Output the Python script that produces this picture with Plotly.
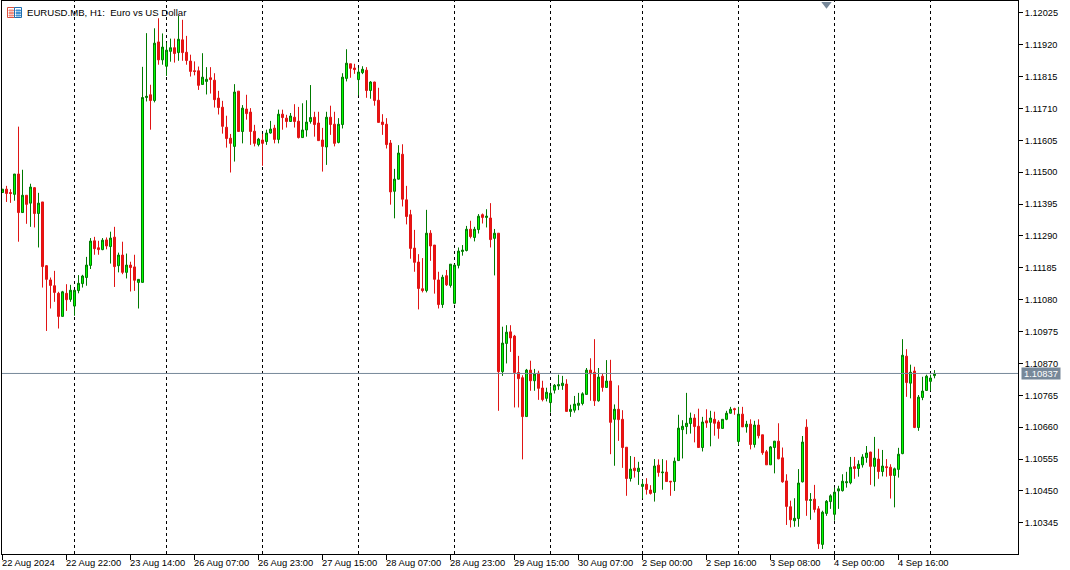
import plotly.graph_objects as go

# Prices in 1e-5 units (points)
opens_pts = [
111433,111444,111433,111427,111494,111367,111424,111398,111449,111364,
111402,111192,111145,111126,111101,111025,111101,111081,111059,111110,
111133,111153,111193,111274,111251,111245,111277,111255,111286,111192,
111227,111170,111194,111188,111137,111137,111746,111755,111736,111929,
111870,111849,111898,111910,111894,111936,111895,111866,111834,111834,
111789,111799,111811,111803,111744,111714,111648,111612,111585,111767,
111634,111708,111698,111635,111591,111606,111601,111629,111645,111608,
111691,111678,111667,111681,111668,111614,111639,111667,111681,111662,
111606,111583,111681,111658,111598,111657,111809,111857,111843,111805,
111828,111836,111769,111797,111737,111665,111658,111596,111437,111477,
111559,111409,111360,111250,111204,111116,111110,111299,111260,111145,
111064,111159,111127,111068,111193,111239,111242,111312,111285,111311,
111360,111351,111349,111282,111299,110843,110936,110974,110960,110840,
110823,110695,110848,110813,110838,110789,110755,110741,110782,110796,
110797,110802,110712,110716,110732,110738,110768,110848,110841,110747,
110828,110791,110812,110686,110719,110686,110594,110491,110525,110514,
110465,110472,110453,110445,110535,110510,110512,110482,110481,110550,
110652,110662,110672,110690,110663,110593,110681,110676,110686,110677,
110656,110686,110706,110721,110613,110703,110661,110670,110603,110667,
110635,110579,110536,110593,110614,110559,110483,110398,110352,110359,
110480,110660,110419,110423,110391,110274,110376,110415,110373,110450,
110451,110477,110477,110530,110524,110536,110560,110578,110531,110555,
110514,110530,110528,110501,110521,110573,110894,110805,110845,110659,
110758,110781,110811,110830]
highs_pts = [
111444,111455,111444,111494,111650,111508,111424,111462,111451,111432,
111402,111194,111153,111175,111106,111109,111131,111129,111111,111161,
111162,111221,111283,111287,111274,111283,111285,111304,111320,111235,
111271,111232,111205,111228,111148,111847,111958,111788,111974,112007,
111957,111927,111940,111940,112015,112002,111949,111887,111865,111848,
111892,111846,111846,111826,111768,111735,111686,111626,111790,111767,
111721,111755,111711,111656,111613,111626,111640,111669,111656,111706,
111706,111689,111695,111724,111715,111727,111737,111787,111699,111699,
111646,111699,111719,111699,111678,111826,111905,111857,111857,111844,
111849,111846,111800,111798,111778,111691,111678,111606,111511,111589,
111592,111455,111376,111310,111230,111217,111376,111309,111260,111172,
111162,111178,111197,111197,111252,111260,111323,111340,111320,111362,
111364,111378,111398,111313,111299,110991,110996,110996,110964,110895,
110831,110852,110879,110852,110846,110813,110790,110795,110802,110833,
110829,110818,110734,110763,110773,110775,110855,110887,110950,110855,
110838,110881,110882,110735,110798,110716,110594,110565,110562,110546,
110487,110492,110469,110555,110554,110555,110551,110482,110560,110701,
110683,110773,110708,110703,110721,110694,110719,110714,110711,110683,
110686,110714,110727,110724,110727,110727,110681,110686,110681,110686,
110635,110585,110598,110615,110673,110593,110505,110418,110426,110522,
110631,110686,110443,110470,110400,110385,110420,110439,110461,110467,
110505,110513,110562,110562,110551,110571,110598,110579,110628,110589,
110585,110555,110538,110527,110592,110950,110917,110866,110859,110766,
110826,110833,110833,110848]
lows_pts = [
111433,111402,111399,111406,111271,111366,111330,111320,111318,111252,
111120,110977,111051,111073,110985,111025,111043,111073,111027,111101,
111120,111126,111181,111228,111228,111243,111246,111199,111122,111170,
111164,111150,111107,111109,111051,111137,111733,111640,111730,111854,
111854,111817,111864,111861,111867,111867,111854,111815,111819,111771,
111789,111756,111759,111713,111690,111627,111581,111499,111535,111634,
111595,111673,111590,111585,111585,111521,111590,111627,111595,111595,
111640,111647,111666,111647,111611,111614,111617,111660,111617,111603,
111502,111524,111623,111585,111595,111644,111799,111811,111824,111753,
111823,111745,111742,111719,111664,111623,111578,111393,111348,111476,
111387,111328,111215,111172,111048,111104,111104,111208,111100,111051,
111053,111125,111120,111065,111183,111225,111239,111282,111272,111298,
111331,111318,111252,111160,110714,110829,110870,110908,110725,110725,
110554,110695,110780,110780,110750,110745,110745,110708,110771,110783,
110783,110712,110694,110708,110716,110732,110768,110747,110730,110744,
110777,110790,110571,110533,110615,110526,110434,110481,110494,110470,
110425,110438,110438,110415,110497,110454,110481,110434,110450,110549,
110557,110637,110639,110610,110593,110580,110658,110597,110632,110622,
110656,110683,110705,110701,110601,110661,110642,110587,110593,110623,
110569,110536,110536,110508,110554,110477,110338,110330,110332,110332,
110478,110368,110355,110379,110259,110259,110368,110391,110352,110391,
110448,110461,110472,110490,110497,110527,110543,110470,110465,110490,
110498,110497,110425,110396,110494,110571,110760,110755,110657,110648,
110749,110780,110780,110821]
closes_pts = [
111444,111430,111430,111494,111367,111424,111394,111451,111364,111398,
111189,111147,111127,111104,111025,111106,111080,111111,111111,111134,
111158,111194,111273,111248,111245,111276,111257,111283,111189,111227,
111170,111194,111186,111144,111147,111746,111750,111736,111925,111870,
111912,111902,111910,111891,111938,111894,111868,111832,111832,111786,
111813,111806,111805,111739,111713,111651,111611,111595,111764,111634,
111711,111693,111634,111595,111609,111595,111629,111642,111608,111691,
111680,111667,111685,111667,111614,111639,111665,111680,111657,111604,
111585,111681,111657,111595,111658,111813,111859,111842,111838,111830,
111839,111769,111797,111736,111664,111657,111591,111435,111477,111563,
111411,111354,111249,111203,111117,111110,111299,111257,111147,111064,
111154,111129,111197,111194,111240,111243,111312,111288,111312,111355,
111351,111355,111278,111299,110843,110937,110973,110954,110840,110820,
110695,110848,110813,110835,110788,110751,110775,110772,110798,110800,
110805,110712,110719,110736,110739,110770,110848,110836,110747,110825,
110791,110812,110676,110719,110685,110593,110491,110522,110517,110525,
110472,110455,110442,110532,110511,110512,110481,110480,110548,110657,
110663,110673,110690,110662,110593,110677,110674,110690,110673,110656,
110686,110706,110719,110718,110703,110661,110670,110603,110667,110632,
110576,110536,110595,110614,110556,110480,110399,110355,110360,110476,
110611,110419,110421,110389,110276,110380,110416,110434,110446,110457,
110482,110480,110528,110524,110538,110562,110575,110531,110558,110514,
110532,110527,110501,110523,110571,110897,110807,110841,110659,110759,
110779,110828,110822,110837]

time_labels = ["22 Aug 2024", "22 Aug 22:00", "23 Aug 14:00", "26 Aug 07:00", "26 Aug 23:00",
               "27 Aug 15:00", "28 Aug 07:00", "28 Aug 23:00", "29 Aug 15:00", "30 Aug 07:00",
               "2 Sep 00:00", "2 Sep 16:00", "3 Sep 08:00", "4 Sep 00:00", "4 Sep 16:00"]
time_label_bars = [0, 16, 32, 48, 64, 80, 96, 112, 128, 144, 160, 176, 192, 208, 224]
period_separators = [18, 41, 65, 89, 113, 137, 160, 184, 208, 232]
price_ticks = [1.12025, 1.11920, 1.11815, 1.11710, 1.11605, 1.11500, 1.11395, 1.11290, 1.11185,
               1.11080, 1.10975, 1.10870, 1.10765, 1.10660, 1.10555, 1.10450, 1.10345]
current_price = 1.10837
title_text = "EURUSD.MB, H1:  Euro vs US Dollar"
trigger_bar = 206
trigger_price = 1.12053

W, H = 1070, 570
L, R, T, B = 2, 1018, 1, 554
FONT = "Liberation Sans"
FS = 9.4
GREY = "#778899"

bars = list(range(len(opens_pts)))

fig = go.Figure()
fig.add_trace(go.Candlestick(
    x=bars,
    open=[v / 1e5 for v in opens_pts],
    high=[v / 1e5 for v in highs_pts],
    low=[v / 1e5 for v in lows_pts],
    close=[v / 1e5 for v in closes_pts],
    increasing=dict(line=dict(color="#007a00", width=1), fillcolor="#00ff00"),
    decreasing=dict(line=dict(color="#e01414", width=1), fillcolor="#ee1111"),
    whiskerwidth=0,
    hoverinfo="skip",
    showlegend=False,
))
fig.add_trace(go.Scatter(
    x=[trigger_bar], y=[trigger_price], mode="markers",
    marker=dict(symbol="triangle-down", size=9, color=GREY, line=dict(width=0)),
    hoverinfo="skip", showlegend=False,
))

shapes = []
for b in period_separators:
    shapes.append(dict(type="line", xref="x", yref="paper", x0=b, x1=b, y0=0, y1=1, layer="below",
                       line=dict(color="#000000", width=1, dash="3px,3px")))
shapes.append(dict(type="line", xref="paper", yref="y", x0=0, x1=1, y0=current_price, y1=current_price,
                   layer="above", line=dict(color=GREY, width=1)))

def pxpaper(x, y):
    return (x - L) / (R - L), 1 - (y - T) / (B - T)
def rect(x0, y0, x1, y1, line, fill):
    a, b = pxpaper(x0, y0)
    c, d = pxpaper(x1, y1)
    return dict(type="rect", xref="paper", yref="paper", x0=a, y0=b, x1=c, y1=d,
                line=dict(color=line, width=1), fillcolor=fill, layer="above")
shapes.append(rect(7.5, 7.5, 14.5, 17.5, "#d9503f", "#ffffff"))
shapes.append(rect(14.5, 7.5, 21.5, 17.5, "#1f6fb0", "#ffffff"))
for yy in (10, 12.5, 15):
    shapes.append(rect(9, yy, 13.5, yy + 1, "#ef8a7c", "#ef8a7c"))
    shapes.append(rect(16, yy, 20.5, yy + 1, "#3f8fd0", "#3f8fd0"))

annotations = [dict(
    text=title_text, xref="paper", yref="paper",
    x=(27 - L) / (R - L), y=1 - (12.5 - T) / (B - T), xanchor="left", yanchor="middle",
    xshift=-2, showarrow=False, font=dict(family=FONT, size=9.6, color="#000000"),
)]
for b, lab in zip(time_label_bars, time_labels):
    annotations.append(dict(
        text=lab, xref="x", yref="paper", x=b, y=0, xanchor="left", yanchor="top",
        xshift=-1, yshift=-3, showarrow=False, font=dict(family=FONT, size=FS, color="#000000"),
        borderpad=0, borderwidth=0,
    ))
annotations.append(dict(
    text=f"{current_price:.5f}", xref="paper", yref="y", x=1, y=current_price,
    xanchor="left", yanchor="middle", xshift=3, showarrow=False,
    font=dict(family=FONT, size=FS, color="#ffffff"), bgcolor=GREY, width=38, height=11,
    align="center", borderpad=0,
))

fig.update_layout(
    width=W, height=H,
    margin=dict(l=L, r=W - R, t=T, b=H - B, pad=0),
    paper_bgcolor="#ffffff", plot_bgcolor="#ffffff",
    showlegend=False, boxgap=0.5, boxgroupgap=0,
    shapes=shapes, annotations=annotations,
    hovermode=False,
    xaxis=dict(range=[-0.125, 253.875], rangeslider=dict(visible=False),
               tickmode="array", tickvals=time_label_bars, ticktext=[""] * len(time_label_bars),
               ticks="outside", ticklen=5, tickwidth=1, tickcolor="#000000",
               showgrid=False, zeroline=False, showline=True, linecolor="#000000",
               linewidth=1, mirror=True),
    yaxis=dict(range=[1.102423, 1.120639], side="right",
               tickmode="array", tickvals=price_ticks, ticktext=[f"{v:.5f}" for v in price_ticks],
               ticks="outside", ticklen=4, tickwidth=1, tickcolor="#000000",
               tickfont=dict(family=FONT, size=9.2, color="#000000"),
               showgrid=False, zeroline=False, showline=True, linecolor="#000000",
               linewidth=1, mirror=True),
)

fig.write_html("out.html", config=dict(displayModeBar=False),
               post_script="document.body.style.margin='0';document.body.style.overflow='hidden';")
